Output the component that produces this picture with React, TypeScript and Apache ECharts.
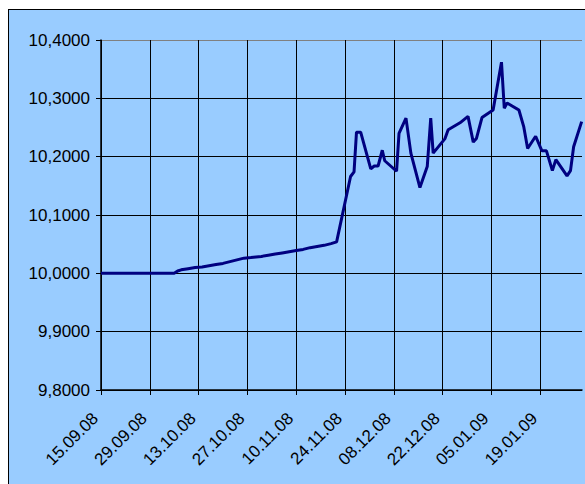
import React, { useEffect, useRef } from "react";
import * as echarts from "echarts";

// Days since 15.09.2008 for each observation
const dayOffsets = [0, 21, 22, 23, 25, 27, 29, 31, 33, 35, 37, 39, 41, 43, 46, 48, 50, 52, 54, 56, 58, 60, 62, 64, 66, 67.6, 71.6, 72.6, 73.3, 74.5, 77.4, 78.4, 79.5, 80.7, 81.4, 84.8, 85.5, 87.5, 88.9, 91.5, 93.6, 94.6, 95.3, 98.7, 99.6, 103, 105.3, 106.8, 107.7, 109.3, 112.5, 114.9, 115.7, 116.5, 119.9, 121.3, 122.4, 124.7, 126.5, 127.8, 129.5, 130.5, 133.7, 134.7, 135.6, 137.9];
const rates = [10.0, 10.0, 10.004, 10.006, 10.008, 10.01, 10.011, 10.013, 10.015, 10.017, 10.02, 10.023, 10.026, 10.027, 10.029, 10.031, 10.033, 10.035, 10.037, 10.039, 10.041, 10.044, 10.046, 10.048, 10.051, 10.054, 10.166, 10.174, 10.242, 10.242, 10.179, 10.184, 10.184, 10.211, 10.193, 10.175, 10.24, 10.266, 10.206, 10.147, 10.183, 10.266, 10.206, 10.231, 10.246, 10.258, 10.269, 10.225, 10.231, 10.267, 10.28, 10.362, 10.283, 10.292, 10.28, 10.251, 10.214, 10.235, 10.21, 10.21, 10.176, 10.195, 10.167, 10.176, 10.217, 10.26];
const tickDays = [0, 14, 28, 42, 56, 70, 84, 98, 112, 126];
const startDate = Date.UTC(2008, 8, 15);
const lastDay = 138;

const pad = (n: number) => (n < 10 ? "0" + n : "" + n);
const fmtDate = (v: number) => {
  const d = new Date(startDate + Math.round(v) * 86400000);
  return pad(d.getUTCDate()) + "." + pad(d.getUTCMonth() + 1) + "." + pad(d.getUTCFullYear() % 100);
};

export default function App() {
  const ref = useRef<HTMLDivElement>(null);
  useEffect(() => {
    if (!ref.current) return;
    const chart = echarts.init(ref.current, undefined, { renderer: "svg" });
    const font = "'Liberation Sans', Arial, sans-serif";
    chart.setOption({
      animation: false,
      backgroundColor: "#99CCFF",
      grid: { left: 92, top: 30, right: 3, bottom: 94, show: false },
      xAxis: {
        type: "value",
        min: 0,
        max: lastDay,
        interval: 14,
        axisLine: { show: true, lineStyle: { color: "#000", width: 1.5 } },
        axisTick: { show: true, length: 5, customValues: tickDays, lineStyle: { color: "#000" } },
        axisLabel: {
          customValues: tickDays,
          rotate: 45,
          margin: 20,
          padding: [0, 8, 0, 0],
          fontSize: 17,
          fontFamily: font,
          color: "#000",
          formatter: (v: number) => fmtDate(v),
        },
        splitLine: {
          show: true,
          lineStyle: {
            color: ["#000", "#000", "#000", "#000", "#000", "#000", "#000", "#000", "#000", "#000", "#808080"],
            width: 1,
          },
        },
      },
      yAxis: {
        type: "value",
        min: 9.8,
        max: 10.4,
        interval: 0.1,
        axisLine: { show: true, lineStyle: { color: "#000", width: 1.5 } },
        axisTick: { show: true, length: 5, lineStyle: { color: "#000" } },
        axisLabel: {
          margin: 11,
          fontSize: 17,
          fontFamily: font,
          color: "#000",
          formatter: (v: number) => v.toFixed(4).replace(".", ","),
        },
        splitLine: {
          show: true,
          lineStyle: {
            color: ["#000", "#000", "#000", "#000", "#000", "#000", "#808080"],
            width: 1,
          },
        },
      },
      series: [
        {
          type: "line",
          data: dayOffsets.map((d, i) => [d, rates[i]]),
          showSymbol: false,
          symbol: "none",
          lineStyle: { color: "#000080", width: 3 },
        },
      ],
    });
    return () => chart.dispose();
  }, []);
  return (
    <div
      style={{
        position: "fixed",
        left: 8,
        top: 9,
        right: 0,
        bottom: 0,
        background: "#99CCFF",
        borderLeft: "1px solid #000",
        borderTop: "1px solid #000",
        boxSizing: "border-box",
      }}
    >
      <div ref={ref} style={{ position: "absolute", left: 0, top: 0, width: 576, height: 474 }} />
    </div>
  );
}
